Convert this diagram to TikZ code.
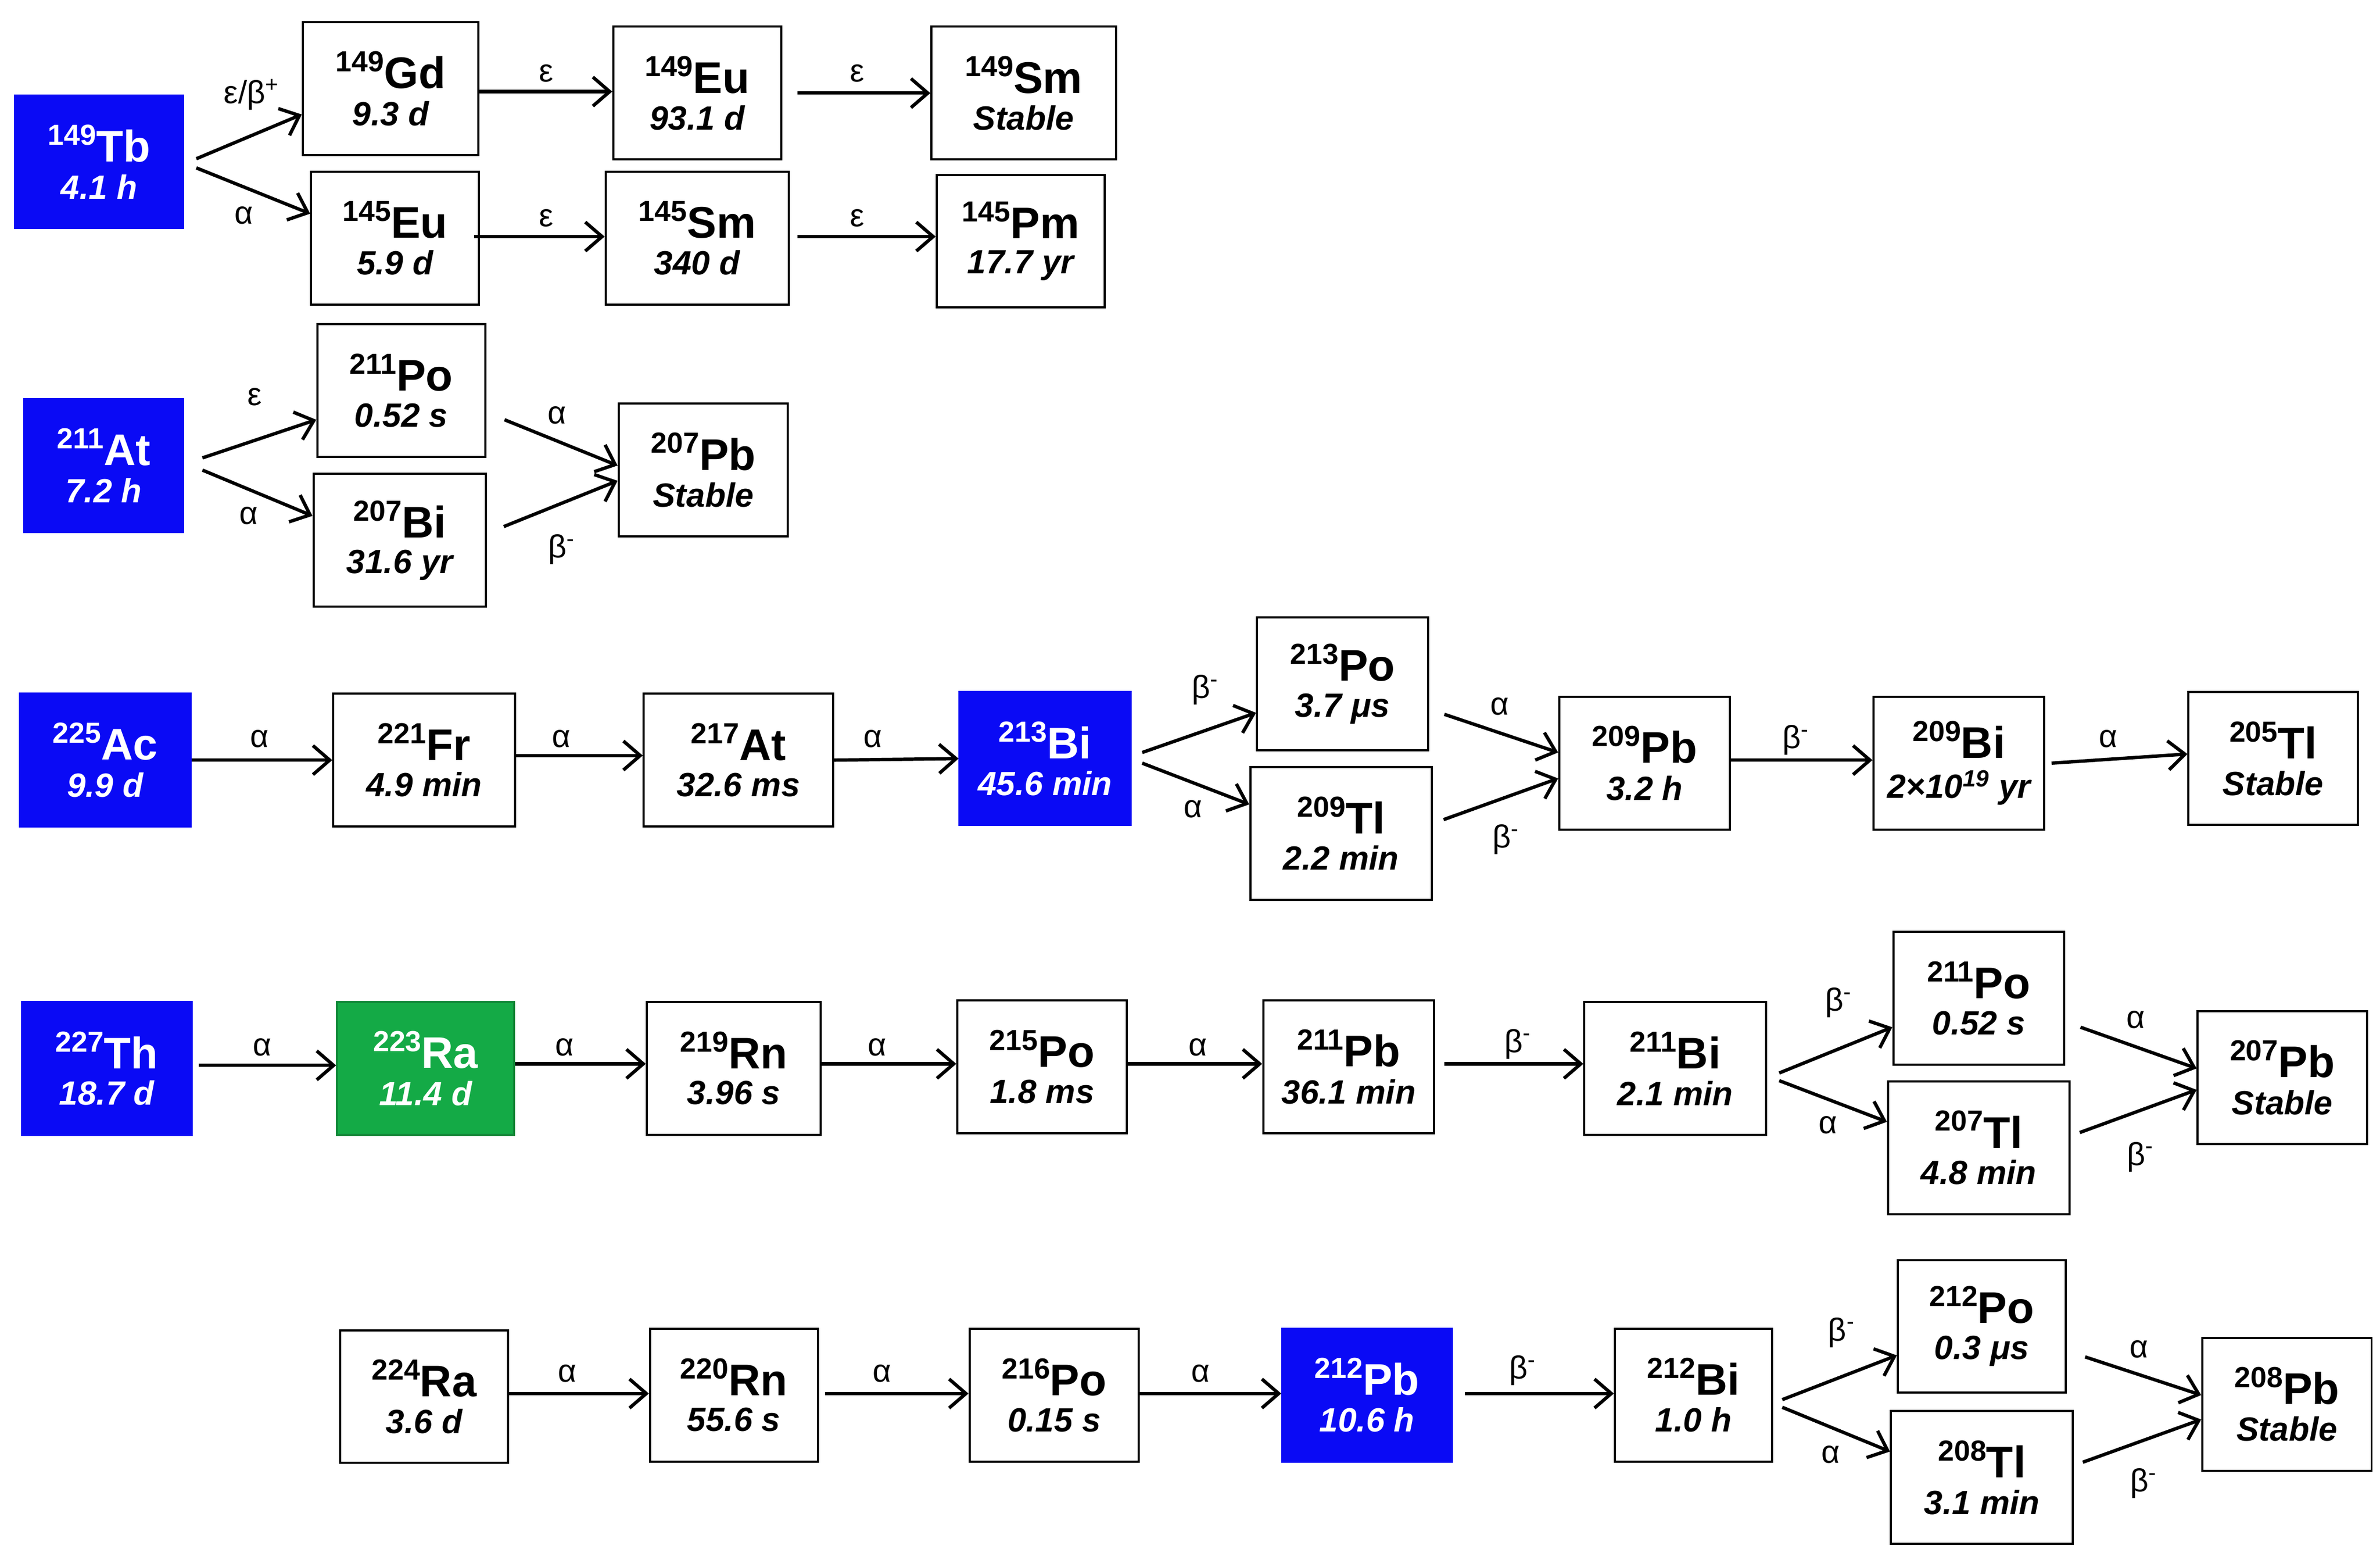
\documentclass[tikz,border=0pt]{standalone}
\usepackage{fontspec}
\setmainfont{Liberation Sans}
\usetikzlibrary{arrows.meta}
\definecolor{nblue}{RGB}{10,10,245}
\definecolor{ngreen}{RGB}{20,170,70}
\tikzset{
 box/.style={draw=black,line width=1.4pt,inner sep=0pt,minimum height=87pt,align=center,fill=white,text=black,font=\bfseries},
 hot/.style={fill=nblue,draw=nblue,text=white},
 grn/.style={fill=ngreen,draw=ngreen!80!black,text=white},
 ar/.style={line width=2.2pt,-{Straight Barb[length=11pt,width=19pt,line width=2.2pt]}},
 lb/.style={font=\fontsize{21}{21}\selectfont,inner sep=0pt}
}
\newcommand{\bx}[8]{\node[box,minimum width=#4pt,#8] (#1) at (#2,#3)
 {\raisebox{11pt}{\fontsize{19}{19}\selectfont #5}{\fontsize{29}{29}\selectfont #6}\\[7pt]{\fontsize{22}{22}\selectfont\itshape #7}};}
\begin{document}
\begin{tikzpicture}[x=1pt,y=-1pt]
\useasboundingbox (0,0) rectangle (1560,1022);
% Row 1
\bx{tb}{65}{106}{110}{149}{Tb}{4.1 h}{hot}
\bx{gd}{256}{58}{115}{149}{Gd}{9.3 d}{}
\bx{eua}{457}{61}{110}{149}{Eu}{93.1 d}{}
\bx{sma}{671}{61}{121}{149}{Sm}{Stable}{}
\bx{eub}{259}{156}{110}{145}{Eu}{5.9 d}{}
\bx{smb}{457}{156}{120}{145}{Sm}{340 d}{}
\bx{pm}{669}{158}{110}{145}{Pm}{17.7 yr}{}
\draw[ar] ([xshift=8pt,yshift=2pt]tb.east) -- ([yshift=-17pt]gd.west);
\draw[ar] ([xshift=8pt,yshift=-4pt]tb.east) -- ([yshift=16pt]eub.west);
\draw[ar] ([yshift=-2pt]gd.east) -- ([yshift=1pt]eua.west);
\draw[ar] ([xshift=10pt]eua.east) -- (sma.west);
\draw[ar] ([xshift=-4pt,yshift=1pt]eub.east) -- ([yshift=1pt]smb.west);
\draw[ar] ([xshift=5pt,yshift=1pt]smb.east) -- ([yshift=3pt]pm.west);
\node[lb] (l1) at (165,62) {ε/β\textsuperscript{+}};
\node[lb] (l2) at (160,141) {α};
\node[lb] (l3) at (358,48) {ε};
\node[lb] (l4) at (562,48) {ε};
\node[lb] (l5) at (358,143) {ε};
\node[lb] (l6) at (562,143) {ε};
% Row 2
\bx{at}{68}{305}{104}{211}{At}{7.2 h}{hot}
\bx{poa}{263}{256}{110}{211}{Po}{0.52 s}{}
\bx{bia}{262}{354}{113}{207}{Bi}{31.6 yr}{}
\bx{pba}{461}{308}{111}{207}{Pb}{Stable}{}
\draw[ar] ([xshift=12pt,yshift=5pt]at.east) -- ([yshift=-19pt]poa.west);
\draw[ar] ([xshift=12pt,yshift=-3pt]at.east) -- ([yshift=16pt]bia.west);
\draw[ar] ([xshift=12pt,yshift=-19pt]poa.east) -- ([yshift=3pt]pba.west);
\draw[ar] ([xshift=11pt,yshift=9pt]bia.east) -- ([yshift=-7pt]pba.west);
\node[lb] (l7) at (167,260) {ε};
\node[lb] (l8) at (163,338) {α};
\node[lb] (l9) at (365,272) {α};
\node[lb] (l10) at (368,360) {β\textsuperscript{-}};
% Row 3
\bx{ac}{69}{498}{112}{225}{Ac}{9.9 d}{hot}
\bx{fr}{278}{498}{119}{221}{Fr}{4.9 min}{}
\bx{atb}{484}{498}{124}{217}{At}{32.6 ms}{}
\bx{bib}{685}{497}{112}{213}{Bi}{45.6 min}{hot}
\bx{pob}{880}{448}{112}{213}{Po}{3.7 μs}{}
\bx{tla}{879}{546}{119}{209}{Tl}{2.2 min}{}
\bx{pbb}{1078}{500}{112}{209}{Pb}{3.2 h}{}
\bx{bic}{1284}{500}{112}{209}{Bi}{2×10\textsuperscript{19} yr}{}
\bx{tlb}{1490}{497}{111}{205}{Tl}{Stable}{}
\draw[ar] (ac.east) -- (fr.west);
\draw[ar] ([yshift=3pt]fr.east) -- ([yshift=3pt]atb.west);
\draw[ar] (atb.east) -- (bib.west);
\draw[ar] ([xshift=7pt,yshift=4pt]bib.east) -- ([yshift=-19pt]pob.west);
\draw[ar] ([xshift=7pt,yshift=-3pt]bib.east) -- ([yshift=19pt]tla.west);
\draw[ar] ([xshift=10pt,yshift=-20pt]pob.east) -- ([yshift=7pt]pbb.west);
\draw[ar] ([xshift=7pt,yshift=9pt]tla.east) -- ([yshift=-10pt]pbb.west);
\draw[ar] ([yshift=2pt]pbb.east) -- ([yshift=2pt]bic.west);
\draw[ar] ([xshift=4pt]bic.east) -- ([yshift=3pt]tlb.west);
\node[lb] (l11) at (170,484) {α};
\node[lb] (l12) at (368,484) {α};
\node[lb] (l13) at (572,484) {α};
\node[lb] (l14) at (790,452) {β\textsuperscript{-}};
\node[lb] (l15) at (782,530) {α};
\node[lb] (l16) at (983,463) {α};
\node[lb] (l17) at (987,550) {β\textsuperscript{-}};
\node[lb] (l18) at (1177,485) {β\textsuperscript{-}};
\node[lb] (l19) at (1382,484) {α};
% Row 4
\bx{th}{70}{700}{111}{227}{Th}{18.7 d}{hot}
\bx{raa}{279}{700}{116}{223}{Ra}{11.4 d}{grn}
\bx{rna}{481}{700}{114}{219}{Rn}{3.96 s}{}
\bx{poc}{683}{699}{111}{215}{Po}{1.8 ms}{}
\bx{pbc}{884}{699}{112}{211}{Pb}{36.1 min}{}
\bx{bid}{1098}{700}{119}{211}{Bi}{2.1 min}{}
\bx{pod}{1297}{654}{112}{211}{Po}{0.52 s}{}
\bx{tlc}{1297}{752}{119}{207}{Tl}{4.8 min}{}
\bx{pbd}{1496}{706}{111}{207}{Pb}{Stable}{}
\draw[ar] ([xshift=4pt,yshift=2pt]th.east) -- ([yshift=2pt]raa.west);
\draw[ar] ([yshift=3pt]raa.east) -- ([yshift=3pt]rna.west);
\draw[ar] ([yshift=3pt]rna.east) -- ([yshift=2pt]poc.west);
\draw[ar] ([yshift=2pt]poc.east) -- ([yshift=2pt]pbc.west);
\draw[ar] ([xshift=6pt,yshift=2pt]pbc.east) -- ([yshift=3pt]bid.west);
\draw[ar] ([xshift=8pt,yshift=-3pt]bid.east) -- ([yshift=-19pt]pod.west);
\draw[ar] ([xshift=8pt,yshift=-8pt]bid.east) -- ([yshift=17pt]tlc.west);
\draw[ar] ([xshift=10pt,yshift=-19pt]pod.east) -- ([yshift=6pt]pbd.west);
\draw[ar] ([xshift=6pt,yshift=10pt]tlc.east) -- ([yshift=-8pt]pbd.west);
\node[lb] (l20) at (172,686) {α};
\node[lb] (l21) at (370,686) {α};
\node[lb] (l22) at (575,686) {α};
\node[lb] (l23) at (785,686) {α};
\node[lb] (l24) at (995,684) {β\textsuperscript{-}};
\node[lb] (l25) at (1205,657) {β\textsuperscript{-}};
\node[lb] (l26) at (1198,737) {α};
\node[lb] (l27) at (1400,668) {α};
\node[lb] (l28) at (1403,758) {β\textsuperscript{-}};
% Row 5
\bx{rab}{278}{915}{110}{224}{Ra}{3.6 d}{}
\bx{rnb}{481}{914}{110}{220}{Rn}{55.6 s}{}
\bx{poe}{691}{914}{111}{216}{Po}{0.15 s}{}
\bx{pbe}{896}{914}{111}{212}{Pb}{10.6 h}{hot}
\bx{bie}{1110}{914}{103}{212}{Bi}{1.0 h}{}
\bx{pof}{1299}{869}{110}{212}{Po}{0.3 μs}{}
\bx{tld}{1299}{968}{119}{208}{Tl}{3.1 min}{}
\bx{pbf}{1499}{920}{111}{208}{Pb}{Stable}{}
\draw[ar] ([yshift=2pt]rab.east) -- ([yshift=1pt]rnb.west);
\draw[ar] ([xshift=4pt,yshift=1pt]rnb.east) -- ([yshift=1pt]poe.west);
\draw[ar] ([yshift=1pt]poe.east) -- ([yshift=1pt]pbe.west);
\draw[ar] ([xshift=8pt,yshift=1pt]pbe.east) -- ([yshift=1pt]bie.west);
\draw[ar] ([xshift=6pt,yshift=-3pt]bie.east) -- ([yshift=-19pt]pof.west);
\draw[ar] ([xshift=6pt,yshift=-8pt]bie.east) -- ([yshift=17pt]tld.west);
\draw[ar] ([xshift=12pt,yshift=-20pt]pof.east) -- ([yshift=6pt]pbf.west);
\draw[ar] ([xshift=6pt,yshift=10pt]tld.east) -- ([yshift=-10pt]pbf.west);
\node[lb] (l29) at (372,900) {α};
\node[lb] (l30) at (578,900) {α};
\node[lb] (l31) at (787,900) {α};
\node[lb] (l32) at (998,898) {β\textsuperscript{-}};
\node[lb] (l33) at (1207,873) {β\textsuperscript{-}};
\node[lb] (l34) at (1200,953) {α};
\node[lb] (l35) at (1402,884) {α};
\node[lb] (l36) at (1405,972) {β\textsuperscript{-}};
\end{tikzpicture}
\end{document}
